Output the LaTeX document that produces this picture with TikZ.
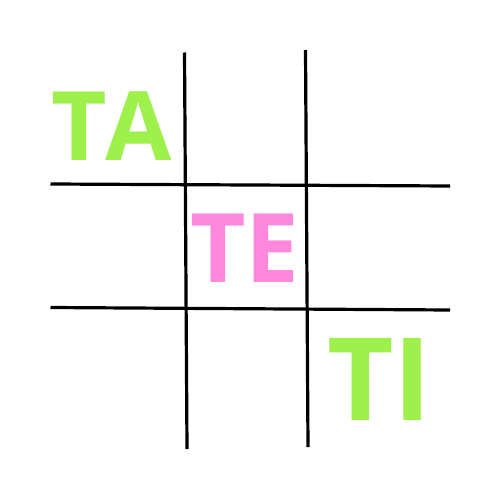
\documentclass[tikz,border=0pt]{standalone}
\usepackage{fontspec}
\setmainfont{Open Sans}
\definecolor{lgreen}{HTML}{9EF04A}
\definecolor{lpink}{HTML}{FF88DD}
\begin{document}
\begin{tikzpicture}[x=1pt,y=-1pt,
  gridline/.style={line width=3.2pt,black},
  word/.style={inner sep=0pt,anchor=base west}]
\useasboundingbox[fill=white] (0,0) rectangle (500,500);
\coordinate (v1a) at (184.5,52.5); \coordinate (v1b) at (187,449);
\coordinate (v2a) at (305.5,50);   \coordinate (v2b) at (308,447);
\coordinate (h1a) at (50.5,184);   \coordinate (h1b) at (450,186);
\coordinate (h2a) at (50.5,307.5); \coordinate (h2b) at (450,310);
\draw[gridline] (v1a) -- (v1b);
\draw[gridline] (v2a) -- (v2b);
\draw[gridline] (h1a) -- (h1b);
\draw[gridline] (h2a) -- (h2b);
\node[word,text=lgreen,font=\fontsize{96}{96}\bfseries\selectfont] (ta) at (51,160) {T\kern-1pt A};
\node[word,text=lpink,font=\fontsize{96}{96}\bfseries\selectfont] (te) at (190,282.7) {TE};
\node[word,text=lgreen,font=\fontsize{115}{115}\bfseries\selectfont] (ti) at (327,420) {TI};
\end{tikzpicture}
\end{document}
